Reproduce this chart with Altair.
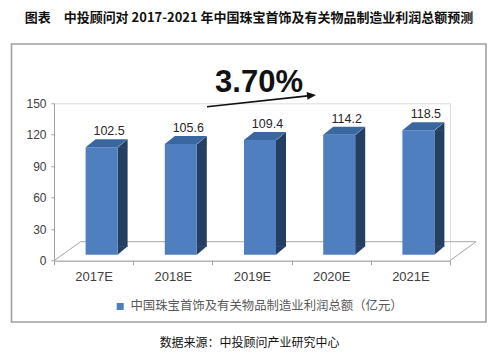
import altair as alt
import pandas as pd

# ---- data ----
years = ["2017E", "2018E", "2019E", "2020E", "2021E"]
values = [102.5, 105.6, 109.4, 114.2, 118.5]
y_ticks = [0, 30, 60, 90, 120, 150]
series_name = "中国珠宝首饰及有关物品制造业利润总额（亿元）"
title_text = "图表　中投顾问对 2017-2021 年中国珠宝首饰及有关物品制造业利润总额预测"
source_text = "数据来源：中投顾问产业研究中心"
growth_text = "3.70%"

df = pd.DataFrame({"year": years, "value": values, "series": [series_name] * len(years)})
one = pd.DataFrame({"a": [0]})

FRONT = "#4F7FBE"
TOP = "#3B67A1"
SIDE = "#243F62"
LATIN = "Liberation Sans"
CJK = "Noto Sans CJK SC"

x_enc = alt.X("year:N", sort=years, title=None,
              scale=alt.Scale(paddingInner=0, paddingOuter=0),
              axis=alt.Axis(tickBand="extent", labelAngle=0, tickSize=4, labelPadding=6,
                            labelFont=LATIN, labelFontSize=13, labelColor="#404040",
                            domainColor="#A0A0A0", tickColor="#A0A0A0", grid=False))
y_enc = alt.Y("value:Q", title=None,
              scale=alt.Scale(domain=[0, 150], nice=False),
              axis=alt.Axis(values=y_ticks, tickCount=len(y_ticks), tickSize=3, labelPadding=5,
                            labelOverlap=False,
                            labelFont=LATIN, labelFontSize=12, labelColor="#404040",
                            domainColor="#A0A0A0", tickColor="#A0A0A0", grid=False))

base = alt.Chart(df)

# side face (rectangle part)
side = base.mark_bar(width=10, xOffset=29, yOffset=-6, y2Offset=-14, color=SIDE).encode(
    x=x_enc, y=y_enc, y2=alt.datum(0))

# side face: top triangle
side_top = base.mark_point(shape="M24,-5.5L34,-14L34,-5.5Z", size=4, filled=True,
                           color=SIDE, opacity=1, strokeWidth=0).encode(
    x=x_enc, y=y_enc)

# side face: bottom triangle
side_bot = base.mark_point(shape="M24,-14.5L34,-14.5L24,-6Z", size=4, filled=True,
                           color=SIDE, opacity=1, strokeWidth=0).encode(
    x=x_enc, y=alt.datum(0))

# front face
front = base.mark_bar(width=32, xOffset=8, yOffset=-6, y2Offset=-6).encode(
    x=x_enc, y=y_enc, y2=alt.datum(0),
    color=alt.Color("series:N", scale=alt.Scale(range=[FRONT]),
                    legend=alt.Legend(title=None, orient="none", legendX=60, legendY=197,
                                      symbolType="square", symbolSize=49, symbolStrokeWidth=0,
                                      labelFont=CJK, labelFontSize=12.4, labelColor="#595959",
                                      labelOffset=4, labelLimit=400)))

# top face
top = base.mark_point(shape="M-8,-6L24,-6L34,-14L2,-14Z", size=4, filled=True,
                      color=TOP, opacity=1, strokeWidth=0).encode(
    x=x_enc, y=y_enc)

# value labels
labels = base.mark_text(dx=15.5, dy=-18, baseline="alphabetic", font=LATIN, fontSize=12.5,
                        color="#262626").encode(
    x=x_enc, y=y_enc, text=alt.Text("value:Q", format=".1f"))

# floor outline (3-D base plane)
floor_style = dict(color="#A8A8A8", strokeWidth=1)
floor_back = alt.Chart(one).mark_rule(**floor_style).encode(
    x=alt.value(26.5), x2=alt.value(422), y=alt.value(138.4))
floor_left = alt.Chart(one).mark_rule(**floor_style).encode(
    x=alt.value(0), x2=alt.value(26.5), y=alt.value(157.4), y2=alt.value(138.4))
floor_right = alt.Chart(one).mark_rule(**floor_style).encode(
    x=alt.value(396), x2=alt.value(422), y=alt.value(157.4), y2=alt.value(138.4))

# outer frame
frame = alt.Chart(one).mark_rect(fill=None, stroke="#A0A0A0", strokeWidth=1.6).encode(
    x=alt.value(-42.5), x2=alt.value(432), y=alt.value(-59.3), y2=alt.value(218.7))

# headline, growth annotation, source
title = alt.Chart(one).mark_text(font=CJK, fontSize=13, fontWeight="bold", color="#111111",
                                 align="center", baseline="middle").encode(
    x=alt.value(195), y=alt.value(-85.6), text=alt.value(title_text))
growth = alt.Chart(one).mark_text(font=LATIN, fontSize=31, fontWeight="bold", color="#111111",
                                  align="center", baseline="alphabetic").encode(
    x=alt.value(205), y=alt.value(-11.3), text=alt.value(growth_text))
arrow_line = alt.Chart(one).mark_rule(color="#111111", strokeWidth=1.6).encode(
    x=alt.value(153), x2=alt.value(256), y=alt.value(3.4), y2=alt.value(-7.7))
arrow_head = alt.Chart(one).mark_point(shape="M0,0L-9,-4L-9,4Z", size=4, filled=True,
                                       color="#111111", opacity=1, strokeWidth=0,
                                       angle=353.8).encode(
    x=alt.value(262), y=alt.value(-8.4))
source = alt.Chart(one).mark_text(font=CJK, fontSize=12, color="#111111",
                                  align="center", baseline="middle").encode(
    x=alt.value(195.5), y=alt.value(239.5), text=alt.value(source_text))

chart = alt.layer(
    frame, floor_back, floor_left, floor_right,
    side, side_top, side_bot, front, top, labels,
    title, growth, arrow_line, arrow_head, source,
).properties(
    width=396, height=157.4,
    padding={"left": 46, "top": 95.3, "right": 42, "bottom": 89},
    autosize=alt.AutoSizeParams(type="none"),
).configure_view(stroke=None).configure_axis(labelOverlap=False).configure(background="white")

chart.save("out.html", embed_options={"renderer": "svg", "actions": False})
